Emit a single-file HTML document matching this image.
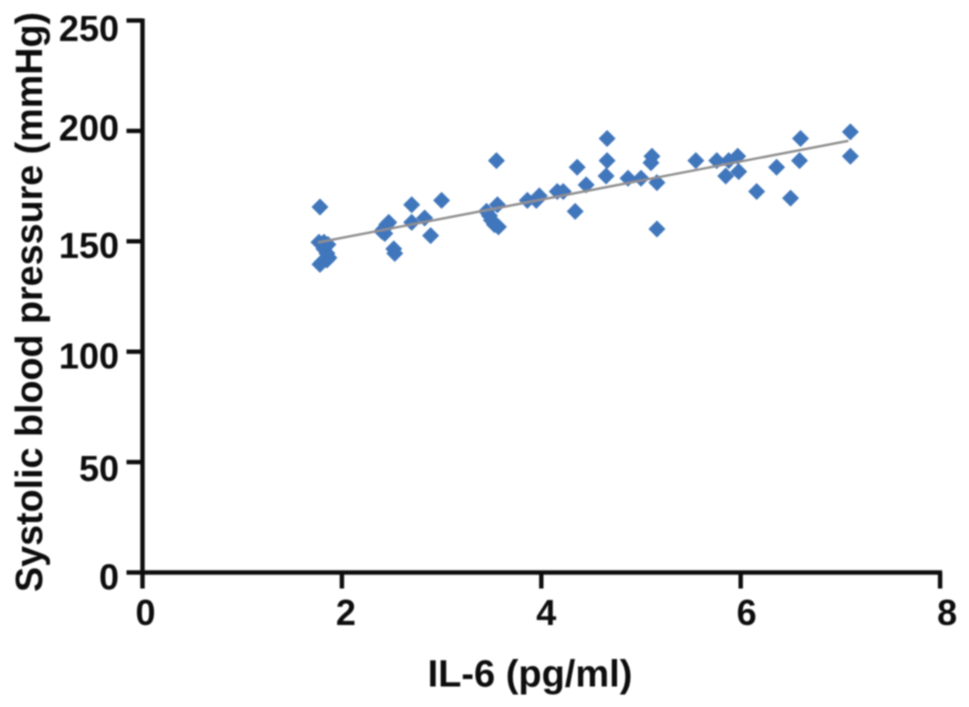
<!DOCTYPE html>
<html>
<head>
<meta charset="utf-8">
<style>
html,body{margin:0;padding:0;background:#fff;width:969px;height:707px;overflow:hidden}
svg{display:block}
text{font-family:"Liberation Sans",Arial,sans-serif;font-weight:bold;fill:#111}
</style>
</head>
<body>
<svg id="chart" width="969" height="707" viewBox="0 0 969 707" xmlns="http://www.w3.org/2000/svg">
<defs><filter id="soft" x="-5%" y="-5%" width="110%" height="110%"><feGaussianBlur stdDeviation="0.8"/></filter></defs>
<g id="root" filter="url(#soft)"></g>
</svg>
<script>
const xTickValues = [0, 2, 4, 6, 8];
const yTickValues = [0, 50, 100, 150, 200, 250];
const xValues = [1.77,1.78,1.78,1.8,1.82,1.85,1.86,1.85,1.87,1.82,2.4,2.42,2.45,2.47,2.43,2.52,2.53,2.7,2.7,2.83,2.89,3.0,3.45,3.48,3.5,3.53,3.57,3.55,3.56,3.86,3.95,3.98,4.16,4.22,4.34,4.36,4.45,4.65,4.66,4.66,4.87,5.0,5.1,5.11,5.16,5.16,5.55,5.76,5.85,5.88,5.97,5.98,6.16,6.36,6.5,6.59,6.6,7.1,7.1];
const yValues = [150,166,140,141,147,145,149,142,143,150,155,156,158,159,154,147,145,167,159,161,153,169,164,162,160,158,157,187,167,169,169,171,173,173,164,184,176,180,187,197,179,179,186,189,177,156,187,187,180,187,189,182,173,184,170,187,197,200,189];
const trendX = [1.76, 7.08];
const trendY = [149.5, 195.5];

const NS = 'http://www.w3.org/2000/svg';
const root = document.getElementById('root');
const sx = v => 142.5 + v * 99.7;
const sy = v => 572.5 - v * 2.208;
const xLabelPos = v => 145.5 + v * 100.2;
const yLabelNudge = v => (v === 200 ? -7 : v === 250 ? 3.5 : v === 50 ? 2 : 0);

function make(tag, attrs, parent) {
  const el = document.createElementNS(NS, tag);
  for (const k in attrs) el.setAttribute(k, attrs[k]);
  (parent || root).appendChild(el);
  return el;
}

const xAxis = make('g', {});


const yAxis = make('g', {});



const axisStyle = {stroke:'#111','stroke-width':4.4,fill:'none'};
const xLine = make('line', Object.assign({x1:sx(0)-2,x2:sx(8)+2,y1:sy(0),y2:sy(0)}, axisStyle), xAxis);


const yLine = make('line', Object.assign({x1:sx(0),x2:sx(0),y1:sy(250)-2,y2:sy(0)+2}, axisStyle), yAxis);



xTickValues.forEach(v => {
  const t = make('line', Object.assign({x1:sx(v),x2:sx(v),y1:sy(0),y2:sy(0)+16}, axisStyle), xAxis);
  
  
  const l = make('text', {x:xLabelPos(v),y:625,'text-anchor':'middle','font-size':36}, xAxis);
  
  
  l.textContent = v;
});
yTickValues.forEach(v => {
  const t = make('line', Object.assign({x1:sx(0)-16,x2:sx(0),y1:sy(v),y2:sy(v)}, axisStyle), yAxis);
  
  
  const l = make('text', {x:119,y:sy(v)+16.8+yLabelNudge(v),'text-anchor':'end','font-size':36}, yAxis);
  
  
  l.textContent = v;
});

const xTitle = make('text', {x:530,y:686.5,'text-anchor':'middle','font-size':38});


xTitle.textContent = 'IL-6 (pg/ml)';

const yTitle = make('text', {transform:'translate(42,302) rotate(-90)','text-anchor':'middle','font-size':37.7});


yTitle.textContent = 'Systolic blood pressure (mmHg)';

const points = make('g', {fill:'#3f76bb'});


xValues.forEach((v, i) => {
  const cx = sx(v), cy = sy(yValues[i]) + 1, r = 8.5;
  const p = make('polygon', {points:`${cx},${cy-r} ${cx+r},${cy} ${cx},${cy+r} ${cx-r},${cy}`}, points);
  
  
});

const trend = make('line', {x1:sx(trendX[0]),y1:sy(trendY[0]),x2:sx(trendX[1]),y2:sy(trendY[1]),stroke:'#8f8f8f','stroke-width':2.4});


</script>
</body>
</html>
